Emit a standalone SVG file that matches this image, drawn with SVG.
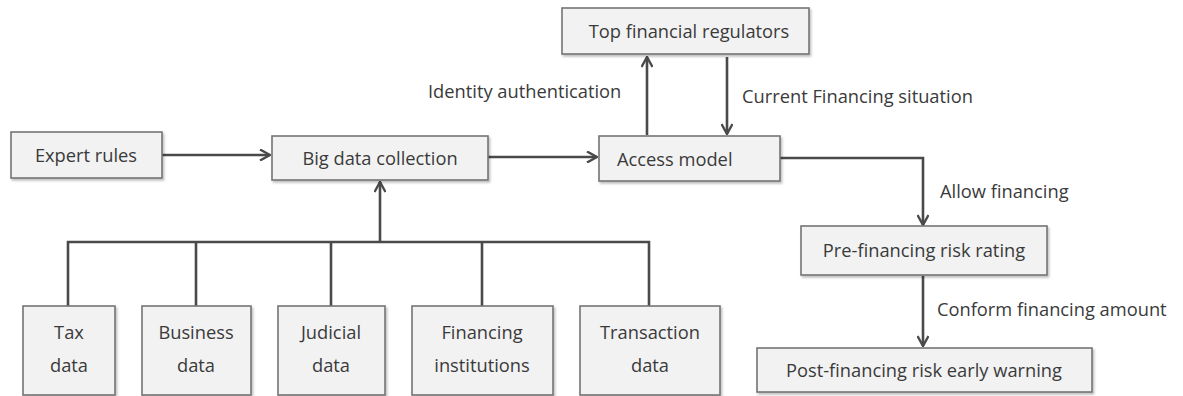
<svg xmlns="http://www.w3.org/2000/svg" width="1183" height="396" viewBox="0 0 1183 396">
<style>
.box{fill:#f2f2f2;stroke:#747474;stroke-width:1.6;filter:url(#sh)}
.t{font-family:"Open Sans","Noto Sans","Liberation Sans",sans-serif;font-size:18.3px;fill:#3a3a3a}
.m{text-anchor:middle}
.ln{fill:none;stroke:#4a4a4a;stroke-width:2.6}
</style>
<defs>
<filter id="sh" x="-10%" y="-10%" width="130%" height="140%">
<feDropShadow dx="1.5" dy="2" stdDeviation="1.2" flood-color="#000" flood-opacity="0.25"/>
</filter>
<marker id="ah" viewBox="0 0 12 12" refX="11" refY="6" markerWidth="12" markerHeight="12" markerUnits="userSpaceOnUse" orient="auto">
<path d="M1,0.5 L11,6 L1,11.5" fill="none" stroke="#4a4a4a" stroke-width="2.4"/>
</marker>
</defs>
<rect width="1183" height="396" fill="#fff"/>
<g id="connectors">
<line class="ln" x1="162" y1="155" x2="270" y2="155" marker-end="url(#ah)"/>
<line class="ln" x1="488" y1="157" x2="597" y2="157" marker-end="url(#ah)"/>
<line class="ln" x1="647" y1="135" x2="647" y2="57" marker-end="url(#ah)"/>
<line class="ln" x1="727" y1="57" x2="727" y2="134" marker-end="url(#ah)"/>
<polyline class="ln" points="780,158 923,158 923,225" marker-end="url(#ah)"/>
<line class="ln" x1="923" y1="276" x2="923" y2="346" marker-end="url(#ah)"/>
<polyline class="ln" points="68,306 68,242 649,242 649,306"/>
<line class="ln" x1="196" y1="242" x2="196" y2="306"/>
<line class="ln" x1="331" y1="242" x2="331" y2="306"/>
<line class="ln" x1="482" y1="242" x2="482" y2="306"/>
<line class="ln" x1="380" y1="242" x2="380" y2="182" marker-end="url(#ah)"/>
<text class="t" x="428" y="98">Identity authentication</text>
<text class="t" x="742" y="103">Current Financing situation</text>
<text class="t" x="940" y="198">Allow financing</text>
<text class="t" x="937" y="316">Conform financing amount</text>
</g>
<g id="expert"><rect class="box" x="11" y="132" width="151" height="46"/><text class="t m" x="86" y="162">Expert rules</text></g>
<g id="bigdata"><rect class="box" x="272" y="136" width="216" height="44"/><text class="t m" x="380" y="165">Big data collection</text></g>
<g id="access"><rect class="box" x="599" y="136" width="181" height="45"/><text class="t" x="617" y="166">Access model</text></g>
<g id="regulators"><rect class="box" x="562" y="8" width="247" height="46"/><text class="t m" x="689" y="38">Top financial regulators</text></g>
<g id="prefin"><rect class="box" x="801" y="226" width="246" height="49"/><text class="t m" x="924" y="257">Pre-financing risk rating</text></g>
<g id="postfin"><rect class="box" x="757" y="348" width="335" height="44"/><text class="t m" x="924" y="377">Post-financing risk early warning</text></g>
<g id="tax"><rect class="box" x="23" y="306" width="92" height="89"/><text class="t m" x="69" y="339">Tax</text><text class="t m" x="69" y="372">data</text></g>
<g id="business"><rect class="box" x="142" y="306" width="109" height="89"/><text class="t m" x="196" y="339">Business</text><text class="t m" x="196" y="372">data</text></g>
<g id="judicial"><rect class="box" x="278" y="306" width="107" height="89"/><text class="t m" x="331" y="339">Judicial</text><text class="t m" x="331" y="372">data</text></g>
<g id="institutions"><rect class="box" x="412" y="306" width="141" height="89"/><text class="t m" x="482" y="339">Financing</text><text class="t m" x="482" y="372">institutions</text></g>
<g id="transaction"><rect class="box" x="580" y="306" width="140" height="89"/><text class="t m" x="650" y="339">Transaction</text><text class="t m" x="650" y="372">data</text></g>
</svg>
